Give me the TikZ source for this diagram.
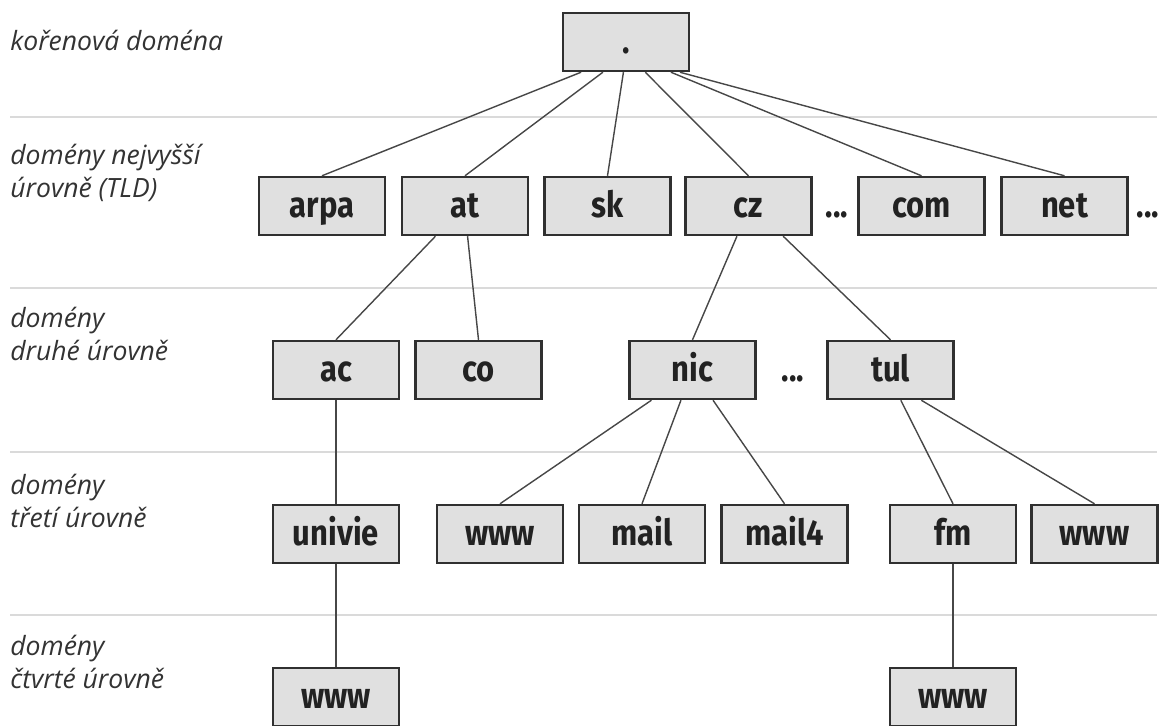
\documentclass[tikz,border=0pt]{standalone}
\usepackage{fontspec}
\setmainfont{Open Sans}
\newfontfamily\boxfont[FakeStretch=0.86]{Fira Sans}
\newfontfamily\levelfont{Open Sans}
\usepackage{tikz}
\usetikzlibrary{calc,positioning}
\usepackage{xcolor}
\definecolor{boxgray}{HTML}{E0E0E0}
\definecolor{edgegray}{HTML}{303030}
\definecolor{linegray}{HTML}{474747}
\definecolor{rulegray}{HTML}{DADADA}
\definecolor{textgray}{HTML}{222222}
\definecolor{labelgray}{HTML}{333333}
\tikzset{
        block/.style = {draw=edgegray, fill=boxgray, line width=1.4pt, rectangle,
            minimum height=1.16cm,
            minimum width=2.52cm,
            inner sep=0pt, text height=0.52cm, text depth=0.08cm,
            text=textgray, font=\boxfont\bfseries\fontsize{20.5}{20.5}\selectfont},
        dots/.style = {inner sep=0pt, text height=0.52cm, text depth=0.08cm,
            text=textgray, font=\boxfont\bfseries\fontsize{20.5}{20.5}\selectfont},
        level/.style = {anchor=base west, align=left, inner sep=0pt, text=labelgray,
            font=\levelfont\itshape\fontsize{15.1}{18.7}\selectfont},
        link/.style = {draw=linegray, line width=0.8pt},
        rule/.style = {draw=rulegray, line width=0.7pt},
    }

\begin{document}
\begin{tikzpicture}[x=0.02cm, y=-0.02cm]
    \useasboundingbox (0,0) rectangle (1161,725);

    % level separators
    \draw[rule] (10,117) -- (1157,117);
    \draw[rule] (10,288) -- (1157,288);
    \draw[rule] (10,452) -- (1157,452);
    \draw[rule] (10,615) -- (1157,615);

    % level names
    \node[level] (lroot) at (10,50) {kořenová doména};
    \node[level] (ltld) at (10,197) {domény nejvyšší\\úrovně (TLD)};
    \node[level] (lsecond) at (10,360) {domény\\druhé úrovně};
    \node[level] (lthird) at (10,527) {domény\\třetí úrovně};
    \node[level] (lfourth) at (10,688) {domény\\čtvrté úrovně};

    % root
    \node[block] (root) at (626,42) {.};

    % top level domains
    \node[block] (arpa) at (322,206) {arpa};
    \node[block] (tldat) at (465,206) {at};
    \node[block] (sk) at (607.5,206) {sk};
    \node[block] (cz) at (748.5,206) {cz};
    \node[dots] (dotsa) at (837,206) {...};
    \node[block] (com) at (921.5,206) {com};
    \node[block] (net) at (1064.5,206) {net};
    \node[dots] (dotsb) at (1148,206) {...};

    % second level
    \node[block] (ac) at (336,370) {ac};
    \node[block] (co) at (478.5,370) {co};
    \node[block] (nic) at (692.5,370) {nic};
    \node[dots] (dotsc) at (793,370) {...};
    \node[block] (tul) at (890.5,370) {tul};

    % third level
    \node[block] (univie) at (336,534) {univie};
    \node[block] (nicwww) at (500,534) {www};
    \node[block] (mail) at (642,534) {mail};
    \node[block] (mailfour) at (784.5,534) {mail4};
    \node[block] (fm) at (953,534) {fm};
    \node[block] (tulwww) at (1094.5,534) {www};

    % fourth level
    \node[block] (acwww) at (336,697) {www};
    \node[block] (fmwww) at (953,697) {www};

    % connectors
    \draw[link] ($(root.south west)!0.15!(root.south east)$) -- (arpa.north);
    \draw[link] ($(root.south west)!0.32!(root.south east)$) -- (tldat.north);
    \draw[link] ($(root.south west)!0.48!(root.south east)$) -- (sk.north);
    \draw[link] ($(root.south west)!0.65!(root.south east)$) -- (cz.north);
    \draw[link] ($(root.south west)!0.85!(root.south east)$) -- (com.north);
    \draw[link] ($(root.south west)!0.92!(root.south east)$) -- (net.north);

    \draw[link] ($(tldat.south west)!0.27!(tldat.south east)$) -- (ac.north);
    \draw[link] ($(tldat.south west)!0.52!(tldat.south east)$) -- (co.north);
    \draw[link] ($(cz.south west)!0.41!(cz.south east)$) -- (nic.north);
    \draw[link] ($(cz.south west)!0.77!(cz.south east)$) -- (tul.north);

    \draw[link] (ac.south) -- (univie.north);
    \draw[link] ($(nic.south west)!0.18!(nic.south east)$) -- (nicwww.north);
    \draw[link] ($(nic.south west)!0.41!(nic.south east)$) -- (mail.north);
    \draw[link] ($(nic.south west)!0.66!(nic.south east)$) -- (mailfour.north);
    \draw[link] ($(tul.south west)!0.58!(tul.south east)$) -- (fm.north);
    \draw[link] ($(tul.south west)!0.74!(tul.south east)$) -- (tulwww.north);

    \draw[link] (univie.south) -- (acwww.north);
    \draw[link] (fm.south) -- (fmwww.north);
\end{tikzpicture}
\end{document}
